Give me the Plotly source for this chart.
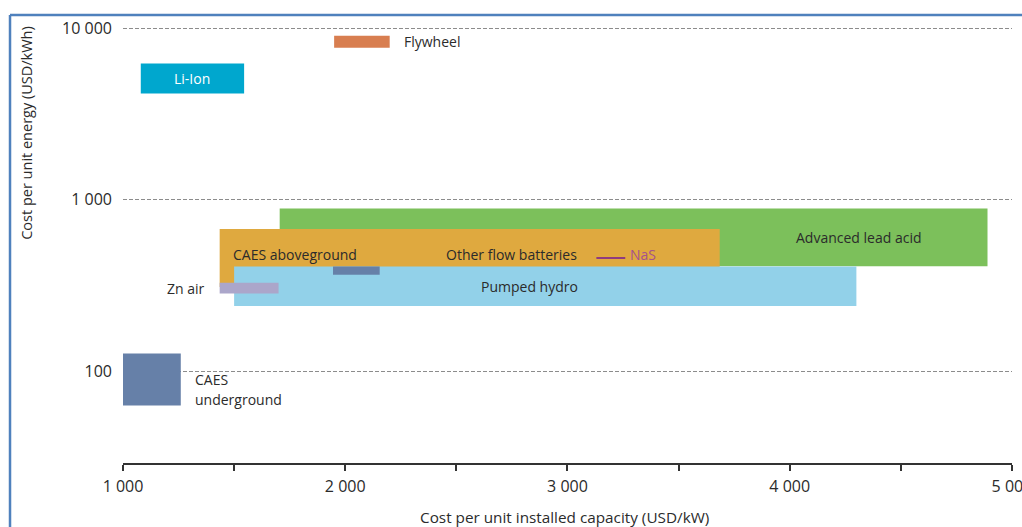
import numpy as np
import plotly.graph_objects as go

# Cost ranges per storage technology: power cost (USD/kW) and energy cost (USD/kWh)
tech_names = ["Advanced lead acid", "Other flow batteries", "Pumped hydro", "CAES aboveground",
              "Zn air", "CAES underground", "Li-Ion", "Flywheel"]
power_low = [1705, 1435, 1500, 1945, 1435, 1000, 1080, 1950]
power_high = [4890, 3685, 4300, 2155, 1700, 1260, 1545, 2200]
energy_low = [410, 310, 240, 366, 284, 63, 4180, 7720]
energy_high = [890, 677, 409, 409, 328, 127, 6250, 9080]
tech_colors = ["#7cc05b", "#dfa93f", "#92d1e9", "#6680a8", "#aba6ca", "#6680a8", "#00a7ce", "#d87e50"]

# NaS is shown as a single energy cost over a power-cost range
nas_power = [3130, 3260]
nas_energy = [458, 458]

# Text labels placed in data units
label_text = ["Li-Ion", "Flywheel", "Advanced lead acid", "CAES aboveground", "Other flow batteries",
              "NaS", "Pumped hydro", "Zn air", "CAES", "underground"]
label_x = [1312, 2255, 4311, 1487, 2747, 3272, 2831, 1380, 1315, 1315]
label_y = [5110, 8370, 601, 483, 483, 483, 311, 305, 89, 68.5]
label_anchor = ["center", "left", "center", "left", "center", "left", "center", "right", "left", "left"]
label_color = ["#ffffff", "#2b2b2b", "#2b2b2b", "#2b2b2b", "#2b2b2b", "#a5528e", "#2b2b2b", "#2b2b2b",
               "#2b2b2b", "#2b2b2b"]

x_ticks = [1000, 1500, 2000, 2500, 3000, 3500, 4000, 4500, 5000]
x_ticktext = ["1 000", "", "2 000", "", "3 000", "", "4 000", "", "5 000"]
y_ticks = [100, 1000, 10000]
y_ticktext = ["100", "1 000", "10 000"]

FONT = "Open Sans"
TXT = "#2b2b2b"

fig = go.Figure()

for name, x0, x1, y0, y1, c in zip(tech_names, power_low, power_high, energy_low, energy_high, tech_colors):
    fig.add_trace(go.Scatter(
        x=[x0, x1, x1, x0, x0], y=[y0, y0, y1, y1, y0],
        mode="lines", fill="toself", fillcolor=c,
        line=dict(width=0, color=c), name=name, showlegend=False, hoverinfo="skip"))

fig.add_trace(go.Scatter(x=nas_power, y=nas_energy, mode="lines",
                         line=dict(color="#8e3b80", width=2), showlegend=False, hoverinfo="skip"))

for t, x, y, a, c in zip(label_text, label_x, label_y, label_anchor, label_color):
    fig.add_annotation(x=x, y=np.log10(y), xref="x", yref="y", text=t, showarrow=False,
                       xanchor=a, yanchor="middle", align="left",
                       font=dict(family=FONT, size=14, color=c))

# Axis titles
fig.add_annotation(xref="paper", yref="paper", x=-0.108, y=0.737, text="Cost per unit energy (USD/kWh)",
                   textangle=-90, showarrow=False, xanchor="center", yanchor="middle",
                   font=dict(family=FONT, size=14.5, color=TXT))
fig.add_annotation(xref="paper", yref="paper", x=0.497, y=-0.1205, text="Cost per unit installed capacity (USD/kW)",
                   showarrow=False, xanchor="center", yanchor="middle",
                   font=dict(family=FONT, size=15.3, color=TXT))

# Blue frame on the left and top edges
frame = "#4f81bd"
fig.add_shape(type="line", xref="paper", yref="paper", x0=-0.1271, x1=-0.1271, y0=1.0, y1=-0.16,
              line=dict(color=frame, width=2.5))
fig.add_shape(type="line", xref="paper", yref="paper", x0=-0.1271, x1=1.02, y0=1.0, y1=1.0,
              line=dict(color=frame, width=2.5))

fig.update_layout(
    width=1022, height=527, autosize=False,
    margin=dict(l=123, r=10, t=15, b=64),
    paper_bgcolor="white", plot_bgcolor="white",
    hovermode=False,
    font=dict(family=FONT, size=14, color=TXT),
    xaxis=dict(range=[1000, 5000.2], tickvals=x_ticks, ticktext=x_ticktext,
               showgrid=False, zeroline=False, showline=True, linecolor="#333333", linewidth=1.5,
               ticks="outside", ticklen=6, tickwidth=1.5, tickcolor="#333333",
               ticklabeloverflow="allow", ticklabelstandoff=2,
               tickfont=dict(family=FONT, size=16, color=TXT), automargin=False),
    yaxis=dict(type="log", range=[1.4645, 4.079], tickvals=y_ticks, ticktext=y_ticktext,
               showgrid=True, gridcolor="#8c8c8c", gridwidth=1, griddash="4px,2px",
               zeroline=False, showline=False, ticks="", ticklabelstandoff=10,
               tickfont=dict(family=FONT, size=16, color=TXT), automargin=False),
)

fig.write_html("out.html")
